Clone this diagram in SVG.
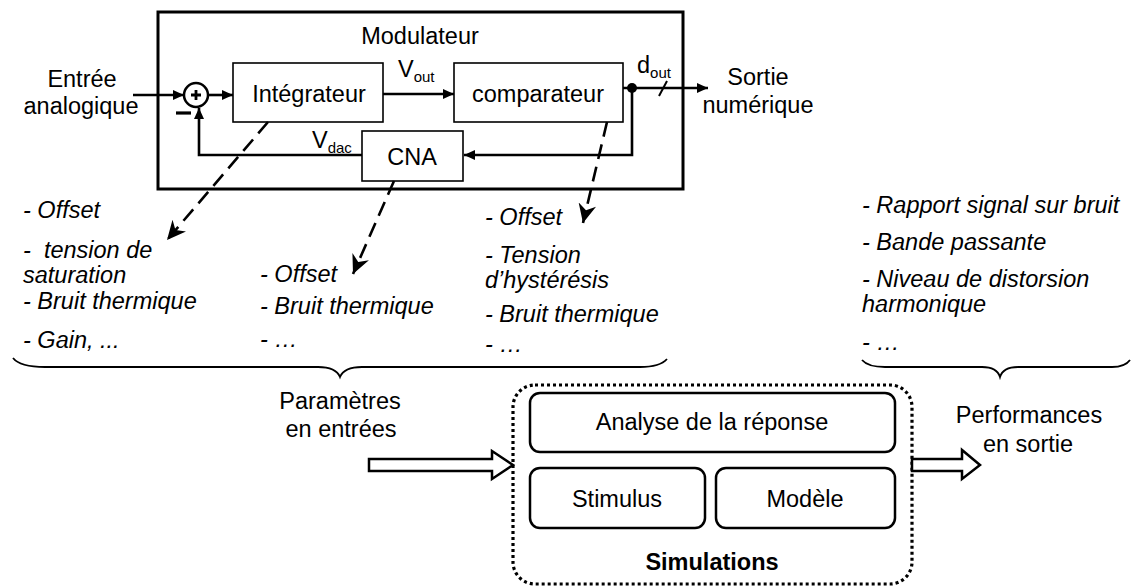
<svg xmlns="http://www.w3.org/2000/svg" width="1131" height="587" viewBox="0 0 1131 587">
<defs>
<style>
text{font-family:"Liberation Sans",Arial,sans-serif;font-size:23.5px;fill:#000}
.it{font-style:italic}
.c{text-anchor:middle}
.sub{font-size:15px}
.blk{fill:none;stroke:#000;stroke-width:1.6}
.rbox{fill:none;stroke:#000;stroke-width:2.5}
.wire{fill:none;stroke:#000;stroke-width:2.6}
.dash{fill:none;stroke:#000;stroke-width:2.6;stroke-dasharray:15 8}
.brace{fill:none;stroke:#000;stroke-width:1.8}
.hollow{fill:#fff;stroke:#000;stroke-width:2.5;stroke-linejoin:miter}
</style>
<marker id="ah" markerUnits="userSpaceOnUse" markerWidth="12" markerHeight="10" refX="11" refY="5" orient="auto">
<path d="M0,0 L11,5 L0,10 z" fill="#000"/>
</marker>
<marker id="dh" markerUnits="userSpaceOnUse" markerWidth="20" markerHeight="18" refX="19" refY="9" orient="auto">
<path d="M0,0 L19,9 L0,18 L6,9 z" fill="#000"/>
</marker>
</defs>

<g id="modulateur">
<rect x="158" y="12" width="525" height="177" fill="none" stroke="#000" stroke-width="3"/>
<text class="c" x="420" y="44">Modulateur</text>
</g>

<g id="entree">
<text class="c" x="82" y="87">Entrée</text>
<text class="c" x="81" y="114">analogique</text>
</g>

<g id="sommateur">
<circle cx="196" cy="95" r="12" fill="#fff" stroke="#000" stroke-width="2.5"/>
<path d="M191,95 H201 M196,90 V100" stroke="#000" stroke-width="2.8"/>
<path d="M176,113 H191" stroke="#000" stroke-width="3.2"/>
</g>

<g id="integrateur">
<rect class="blk" x="233" y="63" width="150" height="59"/>
<text class="c" x="309" y="102">Intégrateur</text>
</g>

<g id="comparateur">
<rect class="blk" x="454" y="63" width="169" height="59"/>
<text class="c" x="538" y="102">comparateur</text>
</g>

<g id="cna">
<rect class="blk" x="362" y="131" width="101" height="50"/>
<text class="c" x="412" y="165">CNA</text>
</g>

<g id="sortie">
<text class="c" x="758" y="85">Sortie</text>
<text class="c" x="758" y="113">numérique</text>
</g>

<g id="connectors">
<line class="wire" x1="133" y1="95" x2="184" y2="95" marker-end="url(#ah)"/>
<line class="wire" x1="208" y1="95" x2="233" y2="95" marker-end="url(#ah)"/>
<line class="wire" x1="383" y1="94" x2="454" y2="94" marker-end="url(#ah)"/>
<text x="398" y="77">V<tspan class="sub" dy="5">out</tspan></text>
<line class="wire" x1="623" y1="88" x2="708" y2="88" marker-end="url(#ah)"/>
<circle cx="632" cy="88" r="5" fill="#000"/>
<line x1="659" y1="96" x2="667" y2="81" stroke="#000" stroke-width="2"/>
<text x="637" y="73">d<tspan class="sub" dy="5">out</tspan></text>
<polyline class="wire" points="632,88 632,155 464,155" marker-end="url(#ah)"/>
<polyline class="wire" points="362,155 199,155 199,108" marker-end="url(#ah)"/>
<text x="312" y="148">V<tspan class="sub" dy="5">dac</tspan></text>
<line class="dash" x1="268" y1="122" x2="167" y2="240" marker-end="url(#dh)"/>
<line class="dash" x1="394" y1="181" x2="353" y2="274" marker-end="url(#dh)"/>
<line class="dash" x1="607" y1="122" x2="583" y2="223" marker-end="url(#dh)"/>
</g>

<g id="liste-integrateur">
<text class="it" x="23" y="218">- Offset</text>
<text class="it" x="23" y="258" xml:space="preserve">-  tension de</text>
<text class="it" x="23" y="283">saturation</text>
<text class="it" x="23" y="309">- Bruit thermique</text>
<text class="it" x="23" y="348">- Gain, ...</text>
</g>

<g id="liste-cna">
<text class="it" x="260" y="282">- Offset</text>
<text class="it" x="260" y="314">- Bruit thermique</text>
<text class="it" x="260" y="347">- …</text>
</g>

<g id="liste-comparateur">
<text class="it" x="485" y="225">- Offset</text>
<text class="it" x="485" y="263">- Tension</text>
<text class="it" x="485" y="288">d’hystérésis</text>
<text class="it" x="485" y="322">- Bruit thermique</text>
<text class="it" x="485" y="352">- …</text>
</g>

<g id="liste-performances">
<text class="it" x="862" y="213">- Rapport signal sur bruit</text>
<text class="it" x="862" y="250">- Bande passante</text>
<text class="it" x="862" y="287">- Niveau de distorsion</text>
<text class="it" x="862" y="312">harmonique</text>
<text class="it" x="862" y="350">- …</text>
</g>

<g id="accolades">
<path class="brace" d="M13,358 Q20,367 45,367 L318,367 Q336,367 340,377 Q344,367 362,367 L640,367 Q660,367 667,359"/>
<path class="brace" d="M862,360 Q868,367 885,367 L982,367 Q997,367 1000,377 Q1003,367 1018,367 L1112,367 Q1125,367 1130,360"/>
</g>

<g id="parametres">
<text class="c" x="340" y="409">Paramètres</text>
<text class="c" x="341" y="437">en entrées</text>
<polygon class="hollow" points="369,459 492,459 492,451 513,465 492,479 492,471 369,471"/>
</g>

<g id="simulations">
<rect x="513" y="385" width="399" height="199" rx="22" ry="22" fill="none" stroke="#000" stroke-width="3.2" stroke-dasharray="3 3"/>
<text class="c" x="712" y="570" font-weight="bold">Simulations</text>
</g>

<g id="analyse">
<rect class="rbox" x="530" y="393" width="365" height="59" rx="10" ry="10"/>
<text class="c" x="712" y="430">Analyse de la réponse</text>
</g>

<g id="stimulus">
<rect class="rbox" x="530" y="468" width="175" height="60" rx="10" ry="10"/>
<text class="c" x="617" y="507">Stimulus</text>
</g>

<g id="modele">
<rect class="rbox" x="716" y="468" width="179" height="60" rx="10" ry="10"/>
<text class="c" x="805" y="507">Modèle</text>
</g>

<g id="performances">
<polygon class="hollow" points="912,459 962,459 962,450 980,465 962,479 962,471 912,471"/>
<text class="c" x="1029" y="423">Performances</text>
<text class="c" x="1028" y="452">en sortie</text>
</g>
</svg>
